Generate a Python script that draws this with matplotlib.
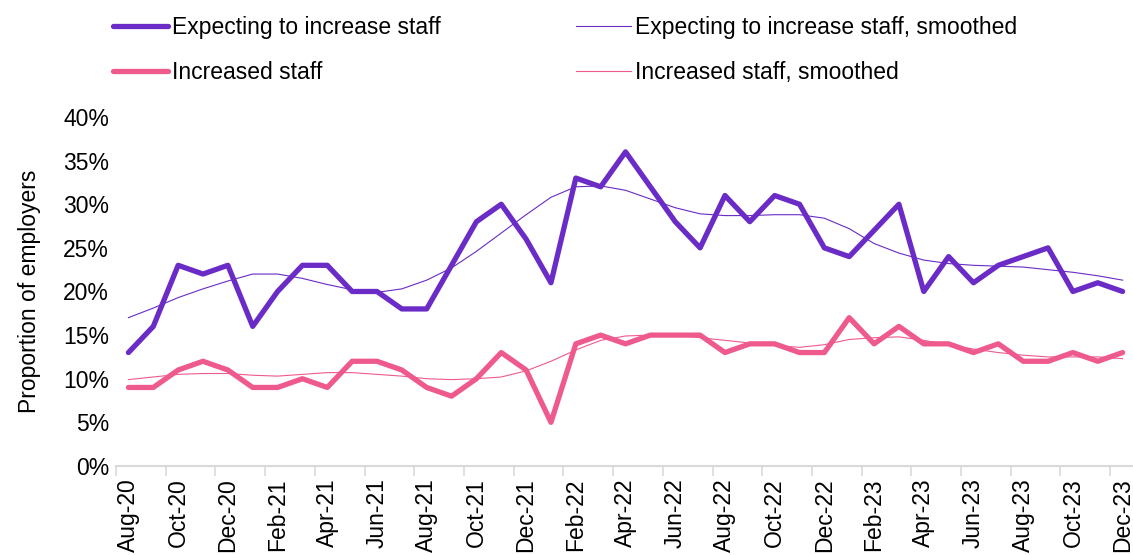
import matplotlib
matplotlib.use("Agg")
from matplotlib import pyplot as plt
from matplotlib.ticker import FixedLocator, FuncFormatter
import numpy as np

plt.rcParams['font.family'] = ['Liberation Sans', 'DejaVu Sans']

### Data (monthly, Aug-20 .. Dec-23)
months = ['Aug-20', 'Sep-20', 'Oct-20', 'Nov-20', 'Dec-20',
          'Jan-21', 'Feb-21', 'Mar-21', 'Apr-21', 'May-21', 'Jun-21',
          'Jul-21', 'Aug-21', 'Sep-21', 'Oct-21', 'Nov-21', 'Dec-21',
          'Jan-22', 'Feb-22', 'Mar-22', 'Apr-22', 'May-22', 'Jun-22',
          'Jul-22', 'Aug-22', 'Sep-22', 'Oct-22', 'Nov-22', 'Dec-22',
          'Jan-23', 'Feb-23', 'Mar-23', 'Apr-23', 'May-23', 'Jun-23',
          'Jul-23', 'Aug-23', 'Sep-23', 'Oct-23', 'Nov-23', 'Dec-23']

expecting = [13, 16, 23, 22, 23,
             16, 20, 23, 23, 20, 20,
             18, 18, 23, 28, 30, 26,
             21, 33, 32, 36, 32, 28,
             25, 31, 28, 31, 30, 25,
             24, 27, 30, 20, 24, 21,
             23, 24, 25, 20, 21, 20]

expecting_smooth = [17.0, 18.1, 19.3, 20.3, 21.2,
                    22.0, 22.0, 21.5, 20.8, 20.2, 19.9,
                    20.3, 21.3, 22.7, 24.6, 26.7, 28.8,
                    30.8, 32.0, 32.1, 31.6, 30.6, 29.6,
                    28.9, 28.7, 28.7, 28.8, 28.8, 28.4,
                    27.2, 25.5, 24.4, 23.6, 23.2, 23.0,
                    22.9, 22.8, 22.5, 22.2, 21.8, 21.3]

increased = [9, 9, 11, 12, 11,
             9, 9, 10, 9, 12, 12,
             11, 9, 8, 10, 13, 11,
             5, 14, 15, 14, 15, 15,
             15, 13, 14, 14, 13, 13,
             17, 14, 16, 14, 14, 13,
             14, 12, 12, 13, 12, 13]

increased_smooth = [9.9, 10.2, 10.5, 10.6, 10.6,
                    10.4, 10.3, 10.5, 10.7, 10.7, 10.5,
                    10.3, 10.0, 9.9, 10.0, 10.2, 10.9,
                    12.0, 13.3, 14.4, 14.9, 15.0, 15.0,
                    14.7, 14.4, 14.1, 13.8, 13.6, 13.9,
                    14.5, 14.7, 14.8, 14.4, 13.9, 13.4,
                    13.0, 12.7, 12.5, 12.5, 12.5, 12.3]

yticks = [0, 5, 10, 15, 20, 25, 30, 35, 40]

purple = '#6A2BC6'
pink = '#EF5A8E'
fs = 16.5

### Figure
fig = plt.figure(figsize=(11.33, 5.55), dpi=100)
ax = fig.add_axes([0.1024, 0.1604, 0.8994, 0.6288])

x = np.arange(len(months))
l1, = ax.plot(x, expecting, color=purple, linewidth=3.8,
              solid_joinstyle='round', solid_capstyle='round',
              label='Expecting to increase staff')
l2, = ax.plot(x, increased, color=pink, linewidth=3.8,
              solid_joinstyle='round', solid_capstyle='round',
              label='Increased staff')
l3, = ax.plot(x, expecting_smooth, color=purple, linewidth=0.8,
              label='Expecting to increase staff, smoothed')
l4, = ax.plot(x, increased_smooth, color=pink, linewidth=0.8,
              label='Increased staff, smoothed')

ax.set_xlim(-0.5, len(months) - 0.5)
ax.set_ylim(0, 40)

# x axis: labels every 2 months, tick marks between categories
ax.set_xticks(x[::2])
ax.set_xticklabels(months[::2], rotation=90, fontsize=fs)
ax.xaxis.set_minor_locator(FixedLocator(np.arange(-0.5, len(months), 2)))
ax.tick_params(axis='x', which='major', length=0, pad=9)
ax.tick_params(axis='x', which='minor', length=7, width=1.2, color='#D9D9D9')

ax.set_yticks(yticks)
ax.yaxis.set_major_formatter(FuncFormatter(lambda v, p: f'{v:.0f}%'))
ax.tick_params(axis='y', length=0, labelsize=fs, pad=5)
ax.set_ylabel('Proportion of employers', fontsize=fs, labelpad=16)

for s in ['top', 'right', 'left']:
    ax.spines[s].set_visible(False)
ax.spines['bottom'].set_color('#D9D9D9')
ax.spines['bottom'].set_linewidth(1.5)

fig.legend(handles=[l1, l2, l3, l4], ncol=2, frameon=False, fontsize=fs,
           loc='upper left', bbox_to_anchor=(0.0816, 1.008),
           handlelength=2.4, handletextpad=0.17, columnspacing=5.9,
           labelspacing=0.95)

fig.savefig('out.png', dpi=100)
